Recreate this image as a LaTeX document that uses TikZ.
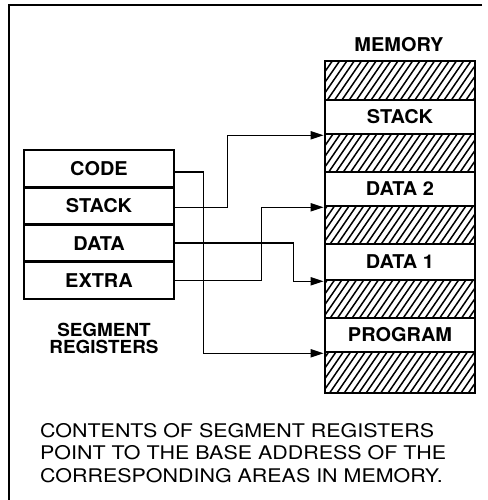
\documentclass[tikz,border=0pt]{standalone}
\usepackage{fontspec}
\setmainfont{TeX Gyre Heros}
\newfontfamily\stretchb[FakeStretch=1.05]{TeX Gyre Heros}
\newfontfamily\stretchr[FakeStretch=1.14]{TeX Gyre Heros}
\usetikzlibrary{arrows.meta}
\begin{document}
\begin{tikzpicture}[x=1pt,y=-1pt,
  lblfont/.style={font=\stretchb\bfseries\fontsize{19}{20}\selectfont},
  reg/.style={draw, line width=2.6pt, minimum width=150pt, minimum height=37.25pt, inner sep=0pt, lblfont},
  band/.style={draw, fill=white, line width=2.6pt, minimum width=150pt, inner sep=0pt, lblfont},
  conn/.style={line width=1.6pt, -{Triangle[length=13pt,width=8pt]}},
  hatch/.style={line width=1.5pt}
]
\useasboundingbox (0,0) rectangle (487,500);
\draw[line width=1.3pt] (482,5) -- (9,5) -- (9,500);

% segment registers
\node[reg] (rcode)  at (99,168.6) {CODE};
\node[reg] (rstack) at (99,205.9) {STACK};
\node[reg] (rdata)  at (99,243.1) {DATA};
\node[reg] (rextra) at (99,280.4) {EXTRA};
\node[align=center, font=\stretchb\bfseries\fontsize{18}{17}\selectfont] (seglbl) at (104,338) {SEGMENT\\REGISTERS};

% memory
\node[lblfont] (memlbl) at (399,45) {MEMORY};
\begin{scope}
\clip (325,61) rectangle (475,393);
\foreach \i in {0,...,52} \draw[hatch] ({96+\i*7.3},393) -- ++(229,-332);
\end{scope}
\node[band, minimum height=34pt] (mstack) at (400,117) {STACK};
\node[band, minimum height=34pt] (mdata2) at (400,189) {DATA 2};
\node[band, minimum height=36pt] (mdata1) at (400,262) {DATA 1};
\node[band, minimum height=34pt] (mprog)  at (400,335) {PROGRAM};
\node[draw, line width=2.6pt, minimum width=150pt, minimum height=332pt, inner sep=0pt] (mem) at (400,227) {};

% connectors
\draw[conn] ([yshift=-3.5pt]rcode.east) -- ++(28,0) |- (mprog.south west);
\draw[conn] ([yshift=-1.5pt]rstack.east) -- ++(52,0) |- (mstack.south west);
\draw[conn] (rdata.east) -- ++(118,0) |- (mdata1.south west);
\draw[conn] (rextra.east) -- ++(86,0) |- (mdata2.south west);

% caption
\node[anchor=north west, align=left, inner sep=0pt, font=\stretchr\fontsize{18.8}{22.5}\selectfont] (cap) at (40,423)
  {CONTENTS OF SEGMENT REGISTERS\\POINT TO THE BASE ADDRESS OF THE\\CORRESPONDING AREAS IN MEMORY.};
\end{tikzpicture}
\end{document}
